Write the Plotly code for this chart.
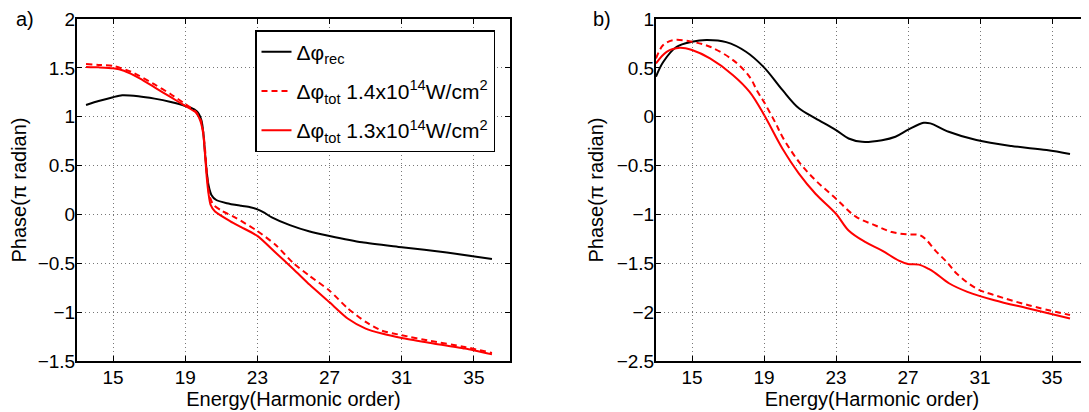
import plotly.graph_objects as go

# ---------------- data: panel a) ----------------
rec_a_x = [13.5, 14.2, 15, 15.5, 16.4, 17.3, 18.2, 19, 19.5, 19.75, 19.9, 20.0, 20.1, 20.2, 20.3,
           20.45, 20.7, 21.3, 22.1, 22.6, 23, 23.4, 23.8, 24.8, 25.9, 27, 28.8, 31, 33.5, 36]
rec_a_y = [1.12, 1.16, 1.2, 1.22, 1.21, 1.185, 1.15, 1.11, 1.075, 1.03, 0.96, 0.84, 0.62, 0.42, 0.29,
           0.2, 0.15, 0.115, 0.088, 0.073, 0.052, 0.015, -0.03, -0.11, -0.175, -0.22, -0.285, -0.335,
           -0.39, -0.455]

tot14_a_x = [13.5, 14.2, 15, 16, 17.3, 18.2, 19, 19.6, 19.85, 20.0, 20.1, 20.2, 20.33, 20.55, 21.0,
             21.85, 23, 24, 25, 25.9, 27, 28, 29, 29.9, 31, 32.6, 34.5, 36]
tot14_a_y = [1.54, 1.53, 1.52, 1.46, 1.33, 1.23, 1.13, 1.05, 0.97, 0.84, 0.66, 0.42, 0.2, 0.1, 0.04,
             -0.04, -0.17, -0.31, -0.5, -0.63, -0.78, -0.96, -1.1, -1.19, -1.236, -1.295, -1.356, -1.418]

tot13_a_x = [13.5, 14.2, 15, 15.6, 16.5, 17.3, 18.2, 19, 19.6, 19.85, 20.0, 20.1, 20.2, 20.3, 20.4,
             20.65, 21.5, 22.1, 23, 24, 25, 25.9, 27, 28, 29, 29.9, 31, 32.6, 34.5, 36]
tot13_a_y = [1.51, 1.505, 1.495, 1.47, 1.39, 1.3, 1.2, 1.11, 1.04, 0.95, 0.82, 0.6, 0.36, 0.2, 0.1,
             0.03, -0.07, -0.13, -0.22, -0.39, -0.56, -0.72, -0.9, -1.065, -1.168, -1.219, -1.264,
             -1.315, -1.373, -1.432]

# ---------------- data: panel b) ----------------
rec_b_x = [13, 13.4, 14.15, 15, 15.8, 16.9, 18, 19, 20.02, 20.94, 21.86, 23, 23.7, 24.45, 25.56,
           26.3, 27.04, 27.87, 28.24, 29.26, 30.8, 32.75, 34.7, 36]
rec_b_y = [0.41, 0.56, 0.716, 0.767, 0.784, 0.763, 0.665, 0.505, 0.274, 0.086, -0.017, -0.137,
           -0.223, -0.257, -0.24, -0.205, -0.13, -0.062, -0.068, -0.154, -0.239, -0.30, -0.341, -0.382]

tot14_b_x = [13, 13.4, 13.96, 15, 16, 17.28, 18.2, 18.63, 19, 19.65, 20.02, 20.94, 21.86, 23, 24.08,
             25.19, 26.1, 27, 27.6, 27.96, 28.52, 29.17, 29.7, 30.8, 31.8, 33.7, 36]
tot14_b_y = [0.596, 0.733, 0.784, 0.767, 0.716, 0.579, 0.408, 0.26, 0.15, -0.068, -0.205, -0.462,
             -0.65, -0.839, -1.02, -1.113, -1.18, -1.205, -1.209, -1.25, -1.37, -1.49, -1.605,
             -1.758, -1.826, -1.929, -2.03]

tot13_b_x = [13, 13.59, 14.33, 15, 16, 17.28, 18.2, 19, 20.02, 20.94, 21.86, 23, 23.7, 24.64, 25.56,
             26.49, 27, 27.6, 28.15, 28.5, 29.3, 30.3, 31.8, 33.7, 36]
tot13_b_y = [0.545, 0.664, 0.706, 0.682, 0.596, 0.425, 0.254, 0.02, -0.325, -0.582, -0.788, -0.993,
             -1.164, -1.284, -1.37, -1.473, -1.507, -1.514, -1.558, -1.598, -1.707, -1.792, -1.878,
             -1.963, -2.065]

x_ticks = [15, 19, 23, 27, 31, 35]
x_title = "Energy(Harmonic order)"
y_title = "Phase(π radian)"
names = ["Δφ<sub>rec</sub>",
         "Δφ<sub>tot</sub> 1.4x10<sup>14</sup>W/cm<sup>2</sup>",
         "Δφ<sub>tot</sub> 1.3x10<sup>14</sup>W/cm<sup>2</sup>"]

FONT = "Liberation Sans, Arial, Helvetica, sans-serif"
# the page body keeps an 8px margin, so the figure is laid out 8px smaller and offset
OFF = 8
W, H = 1089 - OFF, 412 - OFF
ML, MR, MT, MB = 77 - OFF, 1, 19 - OFF, 51

pw = W - ML - MR
ph = H - MT - MB


def px(xpix):  # screen pixel -> paper x
    return (xpix - OFF - ML) / pw


def py(ypix):  # screen pixel -> paper y
    return (H - MB - (ypix - OFF)) / ph


fig = go.Figure()


def add(x, y, name, color, dash, xa, ya, show, smooth, group):
    fig.add_trace(go.Scatter(
        x=x, y=y, name=name, mode="lines", xaxis=xa, yaxis=ya, showlegend=show,
        legendgroup=group,
        line=dict(color=color, width=2, dash=dash, shape="spline", smoothing=smooth)))


add(rec_a_x, rec_a_y, names[0], "#000000", "solid", "x", "y", True, 0.6, "g1")
add(tot14_a_x, tot14_a_y, names[1], "#ff0000", "6px,4px", "x", "y", True, 0.6, "g2")
add(tot13_a_x, tot13_a_y, names[2], "#ff0000", "solid", "x", "y", True, 0.6, "g3")
add(rec_b_x, rec_b_y, names[0], "#000000", "solid", "x2", "y2", False, 1.0, "g1")
add(tot14_b_x, tot14_b_y, names[1], "#ff0000", "6px,4px", "x2", "y2", False, 1.0, "g2")
add(tot13_b_x, tot13_b_y, names[2], "#ff0000", "solid", "x2", "y2", False, 1.0, "g3")


def xaxis(dom):
    return dict(domain=dom, range=[13, 37], tickvals=x_ticks, ticks="inside", ticklen=5,
                tickwidth=1, tickcolor="black", showline=True, linecolor="black", linewidth=2,
                mirror="ticks", showgrid=True, gridcolor="#777777", gridwidth=1, griddash="1px,3px",
                zeroline=False, tickfont=dict(size=19, color="black"), ticklabelstandoff=-2,
                title=dict(text=x_title, font=dict(size=20, color="black"), standoff=0))


def yaxis(rng, anchor):
    return dict(domain=[0, 1], range=rng, dtick=0.5, tick0=0, ticks="inside", ticklen=5,
                tickwidth=1, tickcolor="black", showline=True, linecolor="black", linewidth=2,
                mirror="ticks", showgrid=True, gridcolor="#777777", gridwidth=1, griddash="1px,3px",
                zeroline=False, anchor=anchor, tickfont=dict(size=19, color="black"),
                ticklabelstandoff=-4,
                title=dict(text=y_title, font=dict(size=20, color="black"), standoff=8))


fig.update_layout(
    width=W, height=H,
    margin=dict(l=ML, r=MR, t=MT, b=MB, autoexpand=False),
    paper_bgcolor="white", plot_bgcolor="white",
    font=dict(family=FONT, size=19, color="black"),
    xaxis=dict(xaxis([0, px(510)]), anchor="y"),
    yaxis=yaxis([-1.5, 2], "x"),
    xaxis2=dict(xaxis([px(656), 1]), anchor="y2"),
    yaxis2=yaxis([-2.5, 1], "x2"),
    legend=dict(x=px(255), y=py(30), xanchor="left", yanchor="top",
                bgcolor="white", bordercolor="black", borderwidth=1.5,
                font=dict(size=21, color="black"), itemwidth=30, tracegroupgap=9,
                traceorder="grouped"),
    annotations=[
        dict(text="a)", x=px(25), y=py(19), xref="paper", yref="paper", xanchor="center",
             yanchor="middle", showarrow=False, font=dict(size=20, color="black")),
        dict(text="b)", x=px(602), y=py(19), xref="paper", yref="paper", xanchor="center",
             yanchor="middle", showarrow=False, font=dict(size=20, color="black")),
    ],
)

fig.write_html("out.html")
